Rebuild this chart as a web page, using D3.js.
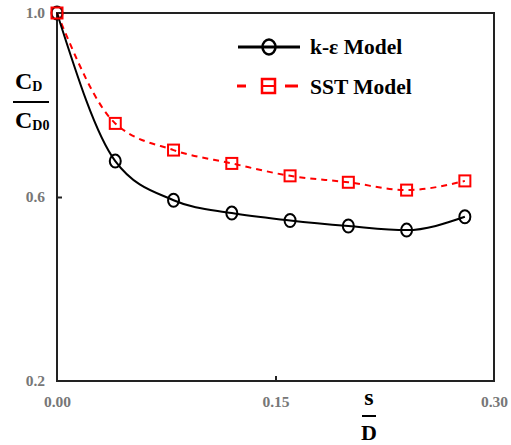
<!DOCTYPE html>
<html><head><meta charset="utf-8">
<script src="https://cdn.jsdelivr.net/npm/d3@7"></script>
<style>body{margin:0;background:#fff}</style>
</head><body>
<svg id="c" width="511" height="445"></svg>
<script>
const xValues = [0, 0.04, 0.08, 0.12, 0.16, 0.20, 0.24, 0.28];
const kEpsilon = [1.0, 0.678, 0.593, 0.565, 0.549, 0.537, 0.528, 0.557];
const sst = [1.0, 0.760, 0.702, 0.673, 0.646, 0.632, 0.615, 0.635];
const xTicks = [0, 0.15, 0.30];
const yTicks = [0.2, 0.6, 1.0];
const seriesNames = ["k-ε Model", "SST Model"];

const svg = d3.select("#c");
const L = 57, R = 494, T = 13, B = 381;
const x = d3.scaleLinear().domain([0, 0.3]).range([L, R]);
const y = d3.scaleLinear().domain([0.2, 1.0]).range([B, T]);
const serif = "'Liberation Serif','DejaVu Serif',serif";

// frame
svg.append("rect").attr("x", L).attr("y", T).attr("width", R - L).attr("height", B - T)
  .attr("fill", "none").attr("stroke", "#222").attr("stroke-width", 2);

// axes
const xa = svg.append("g").attr("transform", `translate(0,${B})`)
  .call(d3.axisBottom(x).tickValues(xTicks).tickSizeInner(-5).tickSizeOuter(0).tickPadding(15).tickFormat(d3.format(".2f")));
const ya = svg.append("g").attr("transform", `translate(${L},0)`)
  .call(d3.axisLeft(y).tickValues(yTicks).tickSizeInner(-5).tickSizeOuter(0).tickPadding(12).tickFormat(d3.format(".1f")));
[xa, ya].forEach(g => {
  g.select(".domain").remove();
  g.selectAll(".tick line").attr("stroke", "#222").attr("stroke-width", 2);
  g.selectAll(".tick text").attr("fill", "#777").attr("font-family", serif).attr("font-weight", "bold").attr("font-size", 15.5);
});
xa.selectAll(".tick").filter(d => d === 0 || d === 0.3).select("line").remove();
ya.selectAll(".tick").filter(d => d === 0.2 || d === 1.0).select("line").remove();

const line = d3.line().x((d, i) => x(xValues[i])).y(d => y(d)).curve(d3.curveMonotoneX);

svg.append("path").datum(sst).attr("d", line).attr("fill", "none")
  .attr("stroke", "#f00").attr("stroke-width", 2).attr("stroke-dasharray", "6,5");
svg.append("path").datum(kEpsilon).attr("d", line).attr("fill", "none")
  .attr("stroke", "#000").attr("stroke-width", 2);

svg.selectAll(".c").data(kEpsilon).enter().append("ellipse")
  .attr("cx", (d, i) => x(xValues[i])).attr("cy", d => y(d)).attr("rx", 5.5).attr("ry", 6.5)
  .attr("fill", "none").attr("stroke", "#000").attr("stroke-width", 2);
svg.selectAll(".s").data(sst).enter().append("rect")
  .attr("x", (d, i) => x(xValues[i]) - 5.5).attr("y", d => y(d) - 5.5).attr("width", 11).attr("height", 11)
  .attr("fill", "none").attr("stroke", "#f00").attr("stroke-width", 2);

// legend
const lg = svg.append("g");
lg.append("line").attr("x1", 238).attr("x2", 300).attr("y1", 47).attr("y2", 47).attr("stroke", "#000").attr("stroke-width", 3);
lg.append("ellipse").attr("cx", 269).attr("cy", 47).attr("rx", 6.5).attr("ry", 7.5).attr("fill", "none").attr("stroke", "#000").attr("stroke-width", 2.5);
lg.append("line").attr("x1", 237).attr("x2", 246).attr("y1", 86).attr("y2", 86).attr("stroke", "#f00").attr("stroke-width", 3);
lg.append("line").attr("x1", 285).attr("x2", 298).attr("y1", 86).attr("y2", 86).attr("stroke", "#f00").attr("stroke-width", 3);
lg.append("rect").attr("x", 262).attr("y", 79).attr("width", 13).attr("height", 14).attr("fill", "none").attr("stroke", "#f00").attr("stroke-width", 2.5);
lg.append("line").attr("x1", 262).attr("x2", 275).attr("y1", 86).attr("y2", 86).attr("stroke", "#f00").attr("stroke-width", 2);
lg.selectAll("text").data(seriesNames).enter().append("text")
  .attr("x", 310).attr("y", (d, i) => 54 + i * 40).text(d => d)
  .attr("font-family", serif).attr("font-weight", "bold").attr("font-size", 21.5).attr("fill", "#000");

// y label fraction
const yl = svg.append("g").attr("font-family", serif).attr("font-weight", "bold").attr("fill", "#000");
const t1 = yl.append("text").attr("x", 15).attr("y", 89).attr("font-size", 24);
t1.append("tspan").text("C");
t1.append("tspan").text("D").attr("font-size", 14).attr("dy", 2);
yl.append("line").attr("x1", 13).attr("x2", 49).attr("y1", 102).attr("y2", 102).attr("stroke", "#000").attr("stroke-width", 2);
const t2 = yl.append("text").attr("x", 15).attr("y", 128).attr("font-size", 24);
t2.append("tspan").text("C");
t2.append("tspan").text("D0").attr("font-size", 14).attr("dy", 2);

// x label fraction
const xl = svg.append("g").attr("font-family", serif).attr("font-weight", "bold").attr("fill", "#000").attr("text-anchor", "middle");
xl.append("text").attr("x", 369).attr("y", 405).attr("font-size", 24).text("s");
xl.append("line").attr("x1", 362).attr("x2", 376).attr("y1", 416).attr("y2", 416).attr("stroke", "#000").attr("stroke-width", 2);
xl.append("text").attr("x", 369).attr("y", 440).attr("font-size", 22).text("D");
</script>
</body></html>
